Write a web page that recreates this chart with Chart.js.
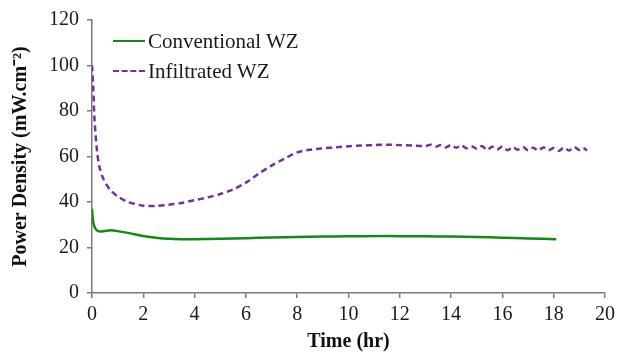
<!DOCTYPE html>
<html>
<head>
<meta charset="utf-8">
<script src="https://cdn.jsdelivr.net/npm/chart.js@4"></script>
<style>
  html, body { margin: 0; padding: 0; background: #fff; }
  .wrap { position: relative; width: 617px; height: 358px; }
  .legend { position: absolute; left: 113px; top: 26px; font-family: "Liberation Serif", serif; font-size: 21px; color: #1a1a1a; }
  .legend div { display: flex; align-items: center; height: 30px; }
  .legend span.ln { display: inline-block; width: 32px; margin-right: 3px; }
</style>
</head>
<body>
<div class="wrap">
  <canvas id="chart" width="617" height="358"></canvas>
  <div class="legend">
    <div><span class="ln" style="border-top: 2.5px solid #138a13;"></span>Conventional WZ</div>
    <div><span class="ln" style="border-top: 2.5px dashed #7030a0;"></span>Infiltrated WZ</div>
  </div>
</div>
<script>
// time in hours, power density in mW.cm-2
const convTime = [0, 0.05, 0.15, 0.3, 0.5, 0.75, 1, 1.5, 2, 2.5, 3, 3.5, 4, 5, 6, 7, 8, 9, 10, 11, 12, 13, 14, 15, 16, 17, 18.1];
const convPower = [37, 31, 28, 27, 27.3, 27.6, 27.2, 26.2, 25.1, 24.3, 23.8, 23.6, 23.6, 23.8, 24.1, 24.4, 24.6, 24.8, 24.9, 25, 25, 24.9, 24.8, 24.6, 24.3, 24, 23.6];

const infTime = [0, 0.05, 0.1, 0.2, 0.3, 0.45, 0.7, 1, 1.4, 2, 2.5, 3, 3.5, 4, 4.5, 5, 5.5, 6, 6.5, 7, 7.5, 8, 8.5, 9, 9.5, 10, 10.5, 11, 11.5, 12, 12.5,
  13, 13.2, 13.4, 13.6, 13.8, 14, 14.2, 14.4, 14.6, 14.8, 15, 15.2, 15.4, 15.6, 15.8, 16, 16.2, 16.4, 16.6, 16.8, 17, 17.2, 17.4, 17.6, 17.8, 18, 18.2, 18.4, 18.6, 18.8, 19, 19.15, 19.3];
const infPower = [100, 90, 76, 62, 55, 50, 45.5, 42.5, 40, 38.4, 38.3, 38.8, 39.6, 40.8, 42, 43.5, 45.5, 48.5, 52.5, 56, 59, 61.8, 63, 63.6, 64, 64.5, 64.8, 65, 65.2, 65, 64.8,
  64.6, 65.2, 64.3, 65, 64, 65.1, 63.8, 64.9, 63.6, 64.5, 63.4, 64.6, 62.9, 64.3, 63.1, 64.4, 62.8, 64.1, 63, 64.2, 62.7, 63.9, 62.6, 64, 62.8, 63.7, 62.5, 63.9, 62.6, 64.1, 62.9, 63.8, 62.6];

const xTicks = [0, 2, 4, 6, 8, 10, 12, 14, 16, 18, 20];

const toPts = (xs, ys) => xs.map((x, i) => ({ x: x, y: ys[i] }));

const serif = "'Liberation Serif', 'Times New Roman', serif";
const axisGrey = "#7a7a7a";

new Chart(document.getElementById("chart").getContext("2d"), {
  type: "line",
  data: {
    datasets: [
      {
        label: "Conventional WZ",
        data: toPts(convTime, convPower),
        borderColor: "#138a13",
        borderWidth: 2.5,
        pointRadius: 0,
        tension: 0.3,
        fill: false,
      },
      {
        label: "Infiltrated WZ",
        data: toPts(infTime, infPower),
        borderColor: "#7030a0",
        borderWidth: 2.5,
        borderDash: [6, 4],
        pointRadius: 0,
        tension: 0.3,
        fill: false,
      },
    ],
  },
  options: {
    responsive: false,
    animation: false,
    layout: { padding: { left: 0, right: 0, top: 19, bottom: 0 } },
    plugins: {
      legend: { display: false },
      tooltip: { enabled: false },
    },
    scales: {
      x: {
        type: "linear",
        min: 0,
        max: 20,
        afterBuildTicks: (s) => { s.ticks = xTicks.map((v) => ({ value: v })); },
        afterFit: (s) => { s.height = 65; s.paddingRight = 12; s.paddingLeft = 0; },
        ticks: { color: "#1a1a1a", font: { family: serif, size: 20 }, padding: 5, maxRotation: 0 },
        grid: { drawOnChartArea: false, drawTicks: true, tickLength: 5, color: axisGrey, lineWidth: 1.5 },
        border: { color: axisGrey, width: 1.5 },
        title: { display: true, text: "Time (hr)", color: "#111", font: { family: serif, size: 20, weight: "bold" }, padding: { top: 4 } },
      },
      y: {
        min: 0,
        max: 120,
        afterFit: (s) => { s.width = 92; },
        ticks: {
          stepSize: 10,
          color: "#1a1a1a",
          font: { family: serif, size: 20 },
          padding: 8,
          callback: (v) => (v % 20 === 0 ? v : ""),
        },
        grid: { drawOnChartArea: false, drawTicks: true, tickLength: 5, color: axisGrey, lineWidth: 1.5 },
        border: { color: axisGrey, width: 1.5 },
        title: { display: true, text: "Power Density (mW.cm\u207B\u00B2)", color: "#111", font: { family: serif, size: 20, weight: "bold" }, padding: { top: 9, bottom: 0 } },
      },
    },
  },
});
</script>
</body>
</html>
